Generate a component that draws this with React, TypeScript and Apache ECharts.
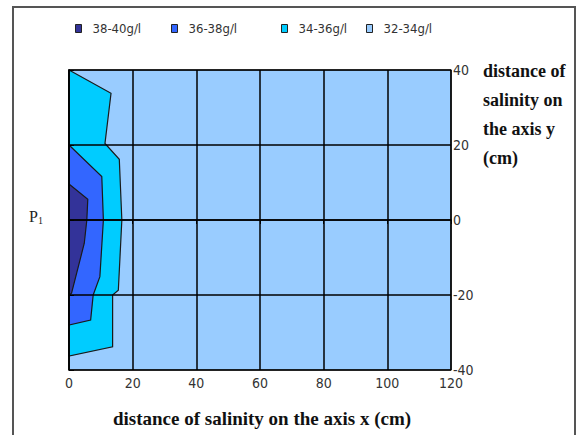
import React, { useEffect, useRef } from "react";
import * as echarts from "echarts";

const xTicks = [0, 20, 40, 60, 80, 100, 120];
const yTicks = [-40, -20, 0, 20, 40];
const levelNames = ["38-40g/l", "36-38g/l", "34-36g/l", "32-34g/l"];
const levelColors = ["#333399", "#3366FF", "#00CCFF", "#99CCFF"];

// contour region outlines (x cm, y cm)
const region32_34: number[][] = [[0, 40], [120, 40], [120, -40], [0, -40]];
const region34_36: number[][] = [
  [0, 40], [13.2, 33.8], [11.3, 20.4], [15.8, 16.2], [16.6, 0], [15.5, -18.7],
  [13.7, -20], [13.7, -33.8], [0, -36.3],
];
const region36_38: number[][] = [
  [0, 20], [10.3, 11.6], [10.8, 0], [9.7, -15.1], [7.6, -20], [6.8, -26.7], [0, -28],
];
const region38_40: number[][] = [
  [0, 9.6], [5.9, 5.5], [5.6, 0], [4.8, -6.2], [0.8, -19.5], [0, -20],
];

const NARROW = "'Liberation Sans Narrow', 'DejaVu Sans Condensed', 'Arial Narrow', sans-serif";
const SERIF = "'Liberation Serif', 'Times New Roman', serif";

function polySeries(name: string, color: string, pts: number[][], z: number) {
  return {
    type: "custom",
    name,
    z,
    itemStyle: { color, borderColor: "#222" },
    encode: { x: 0, y: 1 },
    data: pts,
    renderItem: (params: any, api: any) => {
      if (params.dataIndex !== 0) return null;
      const points = pts.map((p) => api.coord(p));
      return {
        type: "polygon",
        shape: { points },
        style: { fill: color, stroke: "#1a1a1a", lineWidth: 1.2 },
      };
    },
  };
}

export default function App() {
  const ref = useRef<HTMLDivElement>(null);
  useEffect(() => {
    if (!ref.current) return;
    const chart = echarts.init(ref.current, null, { renderer: "svg" });
    const legendLefts = [75, 171, 281, 366];
    const legendOrder = [0, 1, 2, 3];
    chart.setOption({
      animation: false,
      backgroundColor: "#ffffff",
      legend: legendOrder.map((i) => ({
        data: [levelNames[i]],
        left: legendLefts[i],
        top: 22,
        padding: 0,
        icon: "rect",
        itemWidth: 6,
        itemHeight: 8,
        itemGap: 4,
        selectedMode: false,
        itemStyle: { borderColor: "#222", borderWidth: 1 },
        textStyle: { fontSize: 13, color: "#333", fontFamily: NARROW, padding: [2, 0, 0, 6] },
      })),
      grid: { left: 69, right: 131, top: 70, bottom: 65, show: false },
      xAxis: {
        type: "value",
        min: xTicks[0],
        max: xTicks[xTicks.length - 1],
        interval: 20,
        z: 10,
        axisLine: { show: true, lineStyle: { color: "#000", width: 1.5 } },
        axisTick: { show: true, length: 4, lineStyle: { color: "#000" } },
        axisLabel: { color: "#333", fontSize: 14, fontFamily: NARROW, margin: 6 },
        splitLine: { show: true, lineStyle: { color: "#000", width: 1.5 } },
      },
      yAxis: {
        type: "value",
        position: "right",
        min: yTicks[0],
        max: yTicks[yTicks.length - 1],
        interval: 20,
        z: 10,
        axisLine: { show: true, lineStyle: { color: "#000", width: 1.5 } },
        axisTick: { show: true, length: 5, lineStyle: { color: "#000" } },
        axisLabel: { color: "#333", fontSize: 14, fontFamily: NARROW, margin: 2 },
        splitLine: { show: true, lineStyle: { color: "#000", width: 1.5 } },
      },
      series: [
        polySeries(levelNames[3], levelColors[3], region32_34, 1),
        polySeries(levelNames[2], levelColors[2], region34_36, 2),
        polySeries(levelNames[1], levelColors[1], region36_38, 3),
        polySeries(levelNames[0], levelColors[0], region38_40, 4),
      ],
      graphic: [
        {
          type: "rect",
          shape: { x: 13, y: 7, width: 562, height: 440 },
          style: { fill: "none", stroke: "#555", lineWidth: 2 },
          silent: true,
        },
        {
          type: "text",
          left: 483,
          top: 56,
          style: {
            text: "distance of\nsalinity on\nthe axis y\n(cm)",
            font: `bold 18px ${SERIF}`,
            fill: "#111",
            lineHeight: 29,
          },
        },
        {
          type: "text",
          x: 262,
          y: 418,
          style: {
            text: "distance of salinity on the axis x (cm)",
            font: `bold 19px ${SERIF}`,
            fill: "#111",
            align: "center",
            verticalAlign: "middle",
          },
        },
        {
          type: "text",
          x: 29,
          y: 216,
          style: {
            text: "{p|P}{s|1}",
            verticalAlign: "middle",
            rich: {
              p: { fontFamily: SERIF, fontSize: 16, fill: "#222" },
              s: { fontFamily: SERIF, fontSize: 10, fill: "#222", padding: [9, 0, 0, 0] },
            },
          },
        },
      ],
    });
    return () => chart.dispose();
  }, []);
  return (
    <div
      ref={ref}
      style={{ position: "fixed", left: 0, top: 0, width: 582, height: 435 }}
    />
  );
}
